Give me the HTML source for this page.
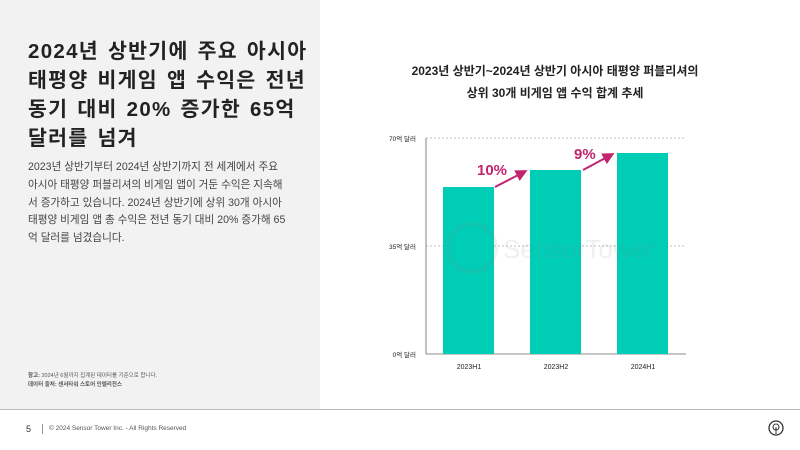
<!DOCTYPE html>
<html><head><meta charset="utf-8"><style>
body{margin:0;width:800px;height:449px;overflow:hidden;background:#fff;font-family:"Liberation Sans","Noto Sans CJK KR",sans-serif;position:relative}
.left{position:absolute;left:0;top:0;width:320px;height:409px;background:#f2f2f2}
.foot{position:absolute;left:0;top:409px;width:800px;height:40px;background:#fff;border-top:1px solid #bbb}
h1{position:absolute;left:28px;top:37px;margin:0;font-size:20.5px;line-height:29px;font-weight:bold;color:#222;white-space:nowrap;letter-spacing:1.3px;word-spacing:2px}
.p{position:absolute;left:28px;top:159px;font-size:10.6px;line-height:17.8px;color:#444;white-space:nowrap}
.note{position:absolute;left:28px;top:372px;font-size:5.5px;line-height:8.5px;color:#555}
.ct{position:absolute;left:380px;top:60px;width:350px;text-align:center;font-size:12px;line-height:22px;font-weight:bold;color:#222}
</style></head><body>
<div class="left"></div>
<h1>2024년 상반기에 주요 아시아<br>태평양 비게임 앱 수익은 전년<br>동기 대비 20% 증가한 65억<br>달러를 넘겨</h1>
<div class="p">2023년 상반기부터 2024년 상반기까지 전 세계에서 주요<br>아시아 태평양 퍼블리셔의 비게임 앱이 거둔 수익은 지속해<br>서 증가하고 있습니다. 2024년 상반기에 상위 30개 아시아<br>태평양 비게임 앱 총 수익은 전년 동기 대비 20% 증가해 65<br>억 달러를 넘겼습니다.</div>
<div class="note"><b>참고:</b> 2024년 6월까지 집계된 데이터를 기준으로 합니다.<br><b>데이터 출처: 센서타워 스토어 인텔리전스</b></div>
<div class="ct">2023년 상반기~2024년 상반기 아시아 태평양 퍼블리셔의<br>상위 30개 비게임 앱 수익 합계 추세</div>
<div class="foot"></div>
<div style="position:absolute;left:26px;top:424px;font-size:9px;color:#333">5</div>
<div style="position:absolute;left:42px;top:424px;width:1px;height:10px;background:#999"></div>
<div style="position:absolute;left:49px;top:425px;font-size:6.5px;color:#555">© 2024 Sensor Tower Inc. - All Rights Reserved</div>
<svg width="800" height="449" style="position:absolute;left:0;top:0">
<defs><marker id="a" markerWidth="6" markerHeight="6" refX="4" refY="3" orient="auto"><path d="M0,0L6,3L0,6z" fill="#c2246f"/></marker></defs>
<g stroke="#aaa" stroke-dasharray="2,2" stroke-width="0.7"><line x1="426" y1="138" x2="685" y2="138"/><line x1="426" y1="246" x2="685" y2="246"/></g>
<line x1="426" y1="138" x2="426" y2="354" stroke="#666" stroke-width="0.8"/>
<line x1="426" y1="354" x2="686" y2="354" stroke="#666" stroke-width="0.8"/>
<g fill="#00cdb5"><rect x="443" y="187" width="51" height="167"/><rect x="530" y="170" width="51" height="184"/><rect x="617" y="153" width="51" height="201"/></g>
<g opacity="0.12">
<circle cx="472" cy="248" r="24" fill="none" stroke="#888" stroke-width="4"/>
<text x="503" y="258" font-size="26" fill="#888" font-family="Liberation Sans">SensorTower</text>
</g>
<g font-size="6.5" fill="#222" text-anchor="end"><text x="416" y="141">70억 달러</text><text x="416" y="249">35억 달러</text><text x="416" y="357">0억 달러</text></g>
<g font-size="7" fill="#222" text-anchor="middle"><text x="469" y="369">2023H1</text><text x="556" y="369">2023H2</text><text x="643" y="369">2024H1</text></g>
<g fill="#c2246f" font-weight="bold" font-size="15"><text x="477" y="175">10%</text><text x="574" y="159">9%</text></g>
<g stroke="#c2246f" stroke-width="2" marker-end="url(#a)"><line x1="495" y1="187" x2="524" y2="172"/><line x1="583" y1="170" x2="611" y2="155"/></g>
<circle cx="776" cy="428" r="7" fill="none" stroke="#333" stroke-width="1.3"/>
<circle cx="776" cy="427" r="3" fill="none" stroke="#333" stroke-width="1"/>
<line x1="776" y1="427" x2="776" y2="434" stroke="#333" stroke-width="1"/>
</svg>
</body></html>
